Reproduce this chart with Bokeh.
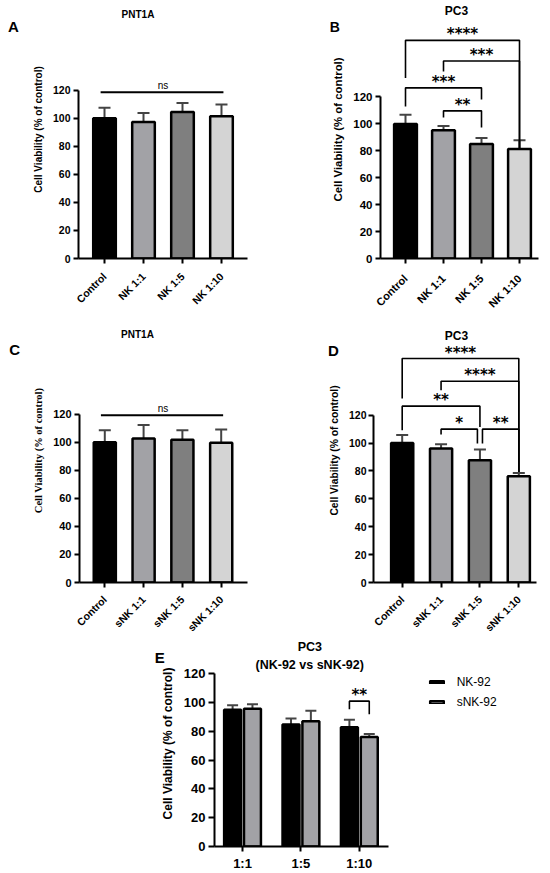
from bokeh.plotting import figure
from bokeh.models import (Range1d, FixedTicker, Label, Whisker, TeeHead, ColumnDataSource,
                          Legend, LegendItem)
from bokeh.layouts import column, row
from bokeh.embed import file_html
from bokeh.resources import INLINE
from bokeh.core.properties import value
from math import pi

# ---------------- data ----------------
nk_groups = ["Control", "NK 1:1", "NK 1:5", "NK 1:10"]
snk_groups = ["Control", "sNK 1:1", "sNK 1:5", "sNK 1:10"]
y_ticks = [0, 20, 40, 60, 80, 100, 120]

a_mean = [100.0, 97.4, 104.5, 101.4]
a_sd = [7.4, 6.4, 6.4, 8.4]
b_mean = [100.0, 95.3, 85.1, 81.4]
b_sd = [6.8, 3.2, 4.4, 6.4]
c_mean = [100.0, 102.6, 101.7, 99.6]
c_sd = [8.6, 9.6, 6.9, 9.5]
d_mean = [100.0, 96.1, 87.7, 76.3]
d_sd = [5.9, 3.1, 7.7, 2.3]

e_ratios = ["1:1", "1:5", "1:10"]
e_series = ["NK-92", "sNK-92"]
e_nk92_mean = [95.2, 84.8, 83.0]
e_nk92_sd = [3.0, 4.3, 5.2]
e_snk92_mean = [95.8, 87.2, 76.1]
e_snk92_sd = [3.2, 7.3, 2.1]

# significance: (left group, right group, bracket top, left leg end, right leg end, label)
a_ns = (0, 3, 118.6, "ns")
c_ns = (0, 3, 119.3, "ns")
b_brackets = [
    (1, 2, 109.7, 104.8, 97.3, "**"),
    (0, 2, 126.8, 112.9, 118.2, "***"),
    (1, 3, 146.8, 139.0, 82.0, "***"),
    (0, 3, 162.1, 134.1, 82.0, "****"),
]
d_brackets = [
    (1, 2, 110.0, 106.2, 99.7, "*"),
    (2, 3, 110.0, 99.7, 79.3, "**"),
    (0, 2, 126.5, 109.3, 111.6, "**"),
    (1, 3, 144.4, 137.9, 79.3, "****"),
    (0, 3, 160.7, 132.0, 79.3, "****"),
]
# (group, bracket top, left leg end, right leg end, label)
e_bracket = (2, 101.1, 95.5, 92.0, "**")

# ---------------- style ----------------
FONT = "Liberation Sans"
STAR_FONT = "DejaVu Sans"
bar_colors = ["#000000", "#a2a2a6", "#7f7f7f", "#d4d4d4"]
e_colors = ["#000000", "#a2a2a6"]
ERR = "#444444"
YLAB = "Cell Viability (% of control)"
STAR_OFFSET = -6
NS_OFFSET = -7


def style_axes(p, tick_size, xlab_size, ylab_size, ylab_font=FONT, orient=pi / 4, tick_out=5,
               x_standoff=4, y_standoff=3):
    p.xgrid.visible = False
    p.ygrid.visible = False
    p.outline_line_color = None
    p.background_fill_color = "white"
    p.border_fill_color = "white"
    for ax in (p.xaxis[0], p.yaxis[0]):
        ax.axis_line_width = 2
        ax.axis_line_color = "black"
        ax.major_tick_line_width = 2
        ax.major_tick_line_color = "black"
        ax.major_tick_out = tick_out
        ax.major_tick_in = 0
        ax.minor_tick_line_color = None
        ax.major_label_text_font = FONT
        ax.major_label_text_font_style = "bold"
        ax.major_label_text_color = "black"
    p.yaxis.major_label_text_font_size = tick_size
    p.xaxis.major_label_text_font_size = xlab_size
    p.yaxis.ticker = FixedTicker(ticks=y_ticks)
    p.yaxis.bounds = (0, 120)
    p.yaxis.major_label_standoff = y_standoff
    p.xaxis.major_label_standoff = x_standoff
    if orient:
        p.xaxis.major_label_orientation = orient
    p.yaxis.axis_label = YLAB
    p.yaxis.axis_label_text_font = ylab_font
    p.yaxis.axis_label_text_font_style = "bold"
    p.yaxis.axis_label_text_font_size = ylab_size
    p.yaxis.axis_label_text_color = "black"
    p.yaxis.axis_label_standoff = 6


def add_text(p, x, y, text, size, style="bold", align="center", place=None):
    lab = Label(x=x, y=y, x_units="canvas", y_units="canvas", text=text,
                text_font=FONT, text_font_size=size, text_font_style=style,
                text_align=align, text_baseline="middle", text_color="black")
    if place:
        p.add_layout(lab, place)
    else:
        p.add_layout(lab)


def bar_panel(groups, mean, sd, width, height, borders, xr, y_end, bar_w,
              tick_size, xlab_size, ylab_size, ylab_font=FONT, x_standoff=4, y_standoff=3):
    left, right, top, bottom = borders
    p = figure(width=width, height=height, x_range=Range1d(*xr), y_range=Range1d(0, y_end),
               output_backend="svg", toolbar_location=None,
               min_border_left=left, min_border_right=right,
               min_border_top=top, min_border_bottom=bottom)
    style_axes(p, tick_size, xlab_size, ylab_size, ylab_font, orient=pi / 4,
               x_standoff=x_standoff, y_standoff=y_standoff)
    idx = list(range(len(groups)))
    p.xaxis.ticker = FixedTicker(ticks=idx)
    p.xaxis.major_label_overrides = {i: g for i, g in enumerate(groups)}
    src = ColumnDataSource(dict(x=idx, top=mean, up=[m + s for m, s in zip(mean, sd)],
                                color=bar_colors[:len(groups)]))
    p.vbar(x="x", top="top", width=bar_w, fill_color="color", line_color="black",
           line_width=2.5, source=src)
    p.add_layout(Whisker(source=src, base="x", lower="top", upper="up", dimension="height",
                         line_color=ERR, line_width=2, lower_head=None,
                         upper_head=TeeHead(size=12, line_color=ERR, line_width=2)))
    return p


def draw_ns(p, ns):
    l, r, y, lab = ns
    p.line(x=[l - 0.1, r + 0.05], y=[y, y], line_color="black", line_width=2)
    p.text(x=[(l + r) / 2], y=[y], text=[lab], text_font=value(FONT), text_font_size="10px",
           text_align="center", text_baseline="alphabetic", y_offset=NS_OFFSET,
           text_color="black")


def draw_brackets(p, brackets, gap):
    xs, ys, tx, ty, tt = [], [], [], [], []
    for br in brackets:
        l, r, top, yl, yr, lab = br
        xl, xr = float(l), float(r)
        for o in brackets:
            if o is not br and o[2] == top:
                if o[1] == l:
                    xl += gap
                if o[0] == r:
                    xr -= gap
        xs.append([xl, xl, xr, xr])
        ys.append([yl, top, top, yr])
        tx.append((xl + xr) / 2)
        ty.append(top)
        tt.append(lab)
    p.multi_line(xs=xs, ys=ys, line_color="black", line_width=1.6)
    p.text(x=tx, y=ty, text=tt, text_font=value(STAR_FONT), text_font_style="bold",
           text_font_size="15px", text_align="center", text_baseline="alphabetic",
           y_offset=STAR_OFFSET, text_color="black")


# ---------------- panel A ----------------
pA = bar_panel(nk_groups, a_mean, a_sd, 275, 318, (78, 28, 0, 60), (-0.667, 3.667), 183.96, 0.58,
               "10.5px", "10.5px", "10px", x_standoff=11)
draw_ns(pA, a_ns)
add_text(pA, 137.5, 13.7, "PNT1A", "10px")
add_text(pA, 12.8, 26.2, "A", "15px", place="left")

# ---------------- panel B ----------------
pB = bar_panel(nk_groups, b_mean, b_sd, 275, 318, (105, 12, 0, 56), (-0.658, 3.5), 191.7, 0.6,
               "11.5px", "11px", "11.4px", x_standoff=13)
draw_brackets(pB, b_brackets, 0.065)
add_text(pB, 181, 10.5, "PC3", "12px")
add_text(pB, 59.2, 26.2, "B", "14px", place="left")

# ---------------- panel C ----------------
pC = bar_panel(snk_groups, c_mean, c_sd, 275, 322, (79, 28, 0, 58), (-0.652, 3.678), 188.2, 0.57,
               "11px", "10.5px", "10.5px", ylab_font="Liberation Serif", x_standoff=10)
draw_ns(pC, c_ns)
add_text(pC, 137, 15.5, "PNT1A", "10px")
add_text(pC, 14.2, 31, "C", "15px", place="left")

# ---------------- panel D ----------------
pD = bar_panel(snk_groups, d_mean, d_sd, 275, 322, (98, 14, 0, 58), (-0.738, 3.455), 189.4, 0.57,
               "10.5px", "10.5px", "10.3px", x_standoff=10, y_standoff=2)
draw_brackets(pD, d_brackets, 0.065)
add_text(pD, 181, 17, "PC3", "12px")
add_text(pD, 58, 31.5, "D", "15px", place="left")

# ---------------- panel E ----------------
E_AXIS_END = 2.497
pE = figure(width=550, height=233, x_range=Range1d(-0.48, 5.102), y_range=Range1d(0, 143.3),
            output_backend="svg", toolbar_location=None,
            min_border_left=214, min_border_right=10, min_border_top=0, min_border_bottom=26)
style_axes(pE, "13px", "13px", "12px", orient=None, tick_out=6)
e_idx = list(range(len(e_ratios)))
pE.xaxis.ticker = FixedTicker(ticks=e_idx)
pE.xaxis.major_label_overrides = {i: g for i, g in enumerate(e_ratios)}
pE.xaxis.bounds = (-0.48, E_AXIS_END)
pE.xaxis.major_label_standoff = 4
pE.xaxis.major_tick_out = 5
E_OFF = 0.17
renderers = []
for k, (mean, sd) in enumerate([(e_nk92_mean, e_nk92_sd), (e_snk92_mean, e_snk92_sd)]):
    off = -E_OFF if k == 0 else E_OFF
    src = ColumnDataSource(dict(x=[i + off for i in e_idx], top=mean,
                                up=[m + s for m, s in zip(mean, sd)]))
    r = pE.vbar(x="x", top="top", width=0.29, fill_color=e_colors[k], line_color="black",
                line_width=2.5, source=src)
    pE.add_layout(Whisker(source=src, base="x", lower="top", upper="up", dimension="height",
                          line_color=ERR, line_width=2, lower_head=None,
                          upper_head=TeeHead(size=11, line_color=ERR, line_width=2)))
    renderers.append(r)
g, top, yl, yr, lab = e_bracket
pE.multi_line(xs=[[g - E_OFF, g - E_OFF, g + E_OFF, g + E_OFF]], ys=[[yl, top, top, yr]],
              line_color="black", line_width=1.6)
pE.text(x=[g], y=[top], text=[lab], text_font=value(STAR_FONT), text_font_style="bold",
        text_font_size="15px", text_align="center", text_baseline="alphabetic",
        y_offset=STAR_OFFSET, text_color="black")
legend = Legend(items=[LegendItem(label=s, renderers=[r]) for s, r in zip(e_series, renderers)],
                location=(213.7, 135.2), padding=0, margin=0, border_line_color=None,
                background_fill_alpha=0, glyph_width=17, glyph_height=4, label_standoff=12,
                spacing=3, label_height=17, label_text_font=FONT, label_text_font_size="12px",
                label_text_color="black")
pE.add_layout(legend)
add_text(pE, 309.3, 6, "PC3", "12.5px")
add_text(pE, 309.2, 24, "(NK-92 vs sNK-92)", "12.5px")
add_text(pE, 159.3, 17.2, "E", "15px", place="left")

layout = column(row(pA, pB), row(pC, pD), pE)
open("out.html", "w").write(file_html(layout, INLINE))
